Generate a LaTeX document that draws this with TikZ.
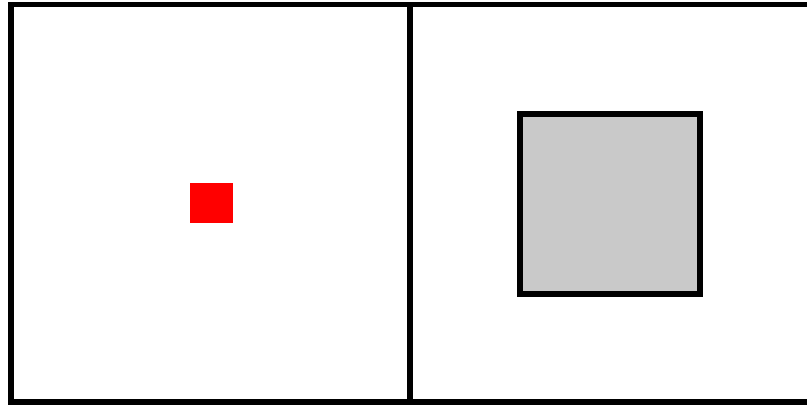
\documentclass[tikz,border=0pt]{standalone}
\begin{document}
\begin{tikzpicture}[x=1pt,y=-1pt,
  frame/.style={draw=black,line width=5.5pt},
  bigsq/.style={draw=black,line width=6pt,fill=graybox},
  smallsq/.style={fill=red,draw=none}]
\definecolor{graybox}{RGB}{201,201,201}
\useasboundingbox (0,0) rectangle (807,405);
\fill[white] (0,0) rectangle (807,405);
\draw[frame] (11,4.5) rectangle (810,402);
\draw[frame] (410,4.5) -- (410,402);
\node[smallsq,minimum width=43pt,minimum height=40pt,inner sep=0pt] (red) at (211.5,203) {};
\node[bigsq,minimum width=180pt,minimum height=180pt,inner sep=0pt] (gray) at (610,203.5) {};
\end{tikzpicture}
\end{document}
